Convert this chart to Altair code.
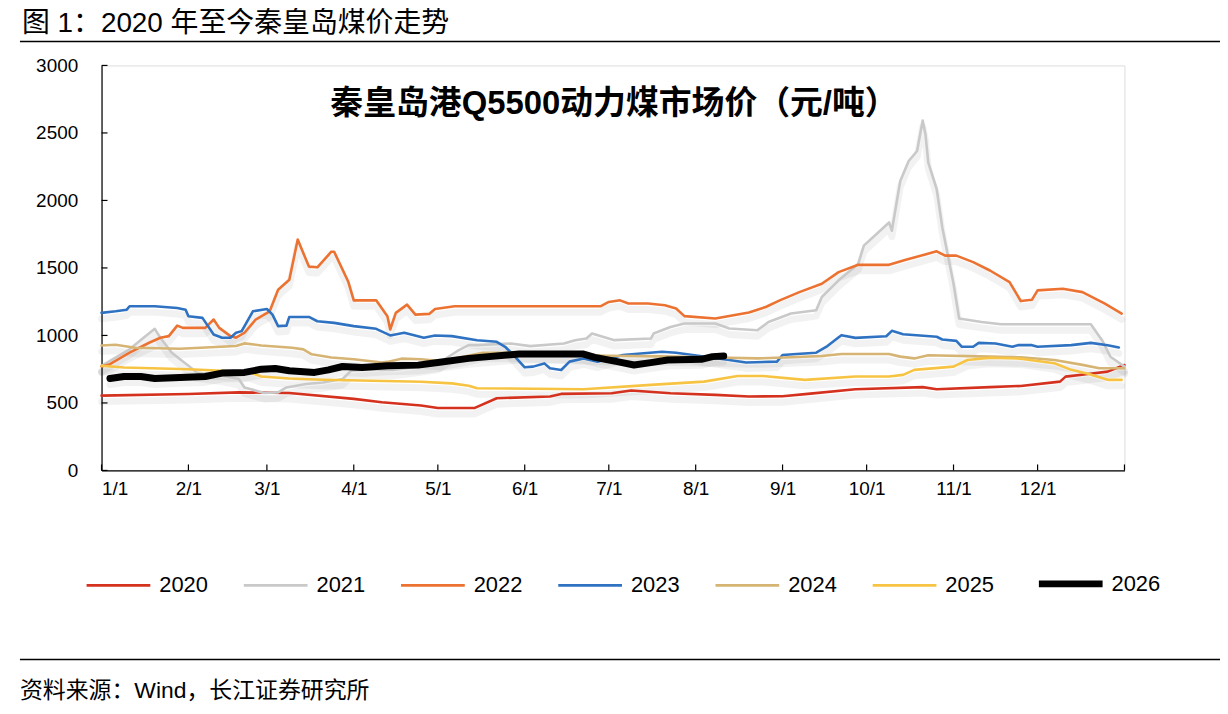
import altair as alt
import pandas as pd

# ---------------- data ----------------
years = ["2020", "2021", "2022", "2023", "2024", "2025", "2026"]
colors = ["#d4321f", "#c9c9c9", "#ec7232", "#2f72c2", "#d6b474", "#f7c343", "#000000"]
thick_year = "2026"

d2020 = [0, 31, 49, 67, 90, 100, 114, 120, 133, 141, 160, 164, 182, 189, 203, 219, 231, 243,
         252, 269, 293, 298, 317, 328, 342, 344, 352, 359, 365]
v2020 = [554, 566, 578, 574, 530, 505, 481, 462, 462, 535, 548, 567, 572, 592, 572, 560, 548, 550,
         567, 602, 617, 602, 617, 626, 658, 695, 714, 732, 781]

d2021 = [0, 10, 15, 19, 21, 25, 28, 31, 34, 43, 49, 51, 58, 63, 66, 73, 79, 86, 89, 95, 104, 110,
         120, 127, 131, 134, 146, 153, 165, 169, 173, 175, 183, 196, 197, 203, 208, 219, 224, 234,
         238, 246, 255, 257, 263, 270, 272, 281, 282, 285, 288, 291, 293, 294, 295, 298, 300, 304,
         306, 314, 321, 353, 357, 360, 365]
v2021 = [775, 897, 983, 1049, 983, 873, 824, 775, 726, 701, 677, 615, 574, 578, 615, 640, 652, 677,
         738, 750, 745, 760, 790, 885, 928, 928, 940, 921, 940, 965, 977, 1014, 965, 977, 1014,
         1063, 1088, 1088, 1051, 1038, 1100, 1162, 1187, 1285, 1408, 1530, 1665, 1837, 1776, 2144,
         2292, 2366, 2592, 2488, 2280, 2083, 1800, 1383, 1125, 1100, 1083, 1083, 965, 842, 769]

d2022 = [0, 3, 10, 17, 21, 24, 27, 29, 37, 40, 42, 46, 48, 51, 55, 60, 63, 67, 70, 74, 77, 82, 83,
         88, 90, 98, 102, 103, 105, 109, 112, 117, 119, 126, 178, 181, 185, 188, 195, 201, 205, 208,
         219, 231, 237, 242, 249, 257, 263, 270, 281, 287, 298, 301, 305, 311, 317, 324, 328, 332,
         334, 343, 350, 358, 364]
v2022 = [770, 787, 873, 946, 983, 995, 1073, 1056, 1056, 1118, 1056, 995, 983, 1020, 1118, 1179,
         1338, 1412, 1710, 1510, 1505, 1620, 1620, 1400, 1260, 1260, 1142, 1044, 1167, 1228, 1154,
         1160, 1196, 1216, 1216, 1248, 1260, 1236, 1236, 1224, 1199, 1143, 1125, 1170, 1211, 1260,
         1321, 1383, 1469, 1523, 1523, 1560, 1623, 1591, 1591, 1543, 1481, 1395, 1255, 1265, 1334,
         1346, 1321, 1235, 1162]

d2023 = [0, 5, 9, 10, 19, 27, 30, 31, 36, 38, 40, 43, 46, 48, 50, 54, 59, 61, 63, 66, 67, 74, 77,
         83, 90, 98, 103, 108, 115, 119, 125, 134, 141, 144, 147, 151, 154, 158, 160, 164, 167, 172,
         177, 186, 200, 205, 224, 230, 241, 243, 248, 255, 259, 262, 264, 269, 280, 282, 286, 298,
         300, 305, 307, 311, 313, 319, 325, 327, 332, 334, 346, 353, 359, 363]
v2023 = [1167, 1179, 1191, 1216, 1216, 1203, 1191, 1142, 1130, 1069, 1007, 983, 983, 1020, 1032,
         1179, 1196, 1154, 1069, 1073, 1137, 1137, 1105, 1093, 1069, 1049, 1000, 1020, 983, 1000,
         995, 965, 953, 916, 855, 764, 769, 793, 757, 744, 806, 830, 806, 855, 879, 872, 818, 800,
         806, 855, 862, 872, 921, 970, 1002, 982, 994, 1034, 1009, 990, 970, 960, 916, 916, 945,
         940, 916, 928, 928, 916, 928, 945, 928, 911]

d2024 = [0, 5, 12, 28, 48, 51, 57, 68, 72, 75, 82, 90, 100, 102, 107, 114, 121, 130, 136, 148, 160,
         180, 200, 219, 234, 246, 257, 264, 281, 285, 290, 295, 317, 328, 340, 350, 356, 365]
v2024 = [926, 931, 909, 902, 922, 941, 926, 909, 897, 860, 836, 824, 799, 804, 828, 824, 811, 845,
         872, 872, 862, 850, 845, 837, 830, 838, 848, 862, 862, 843, 830, 853, 843, 838, 818, 782,
         757, 757]

d2025 = [0, 8, 31, 43, 53, 57, 67, 79, 114, 125, 131, 134, 172, 196, 215, 227, 236, 251, 269, 281,
         286, 290, 304, 309, 317, 328, 340, 346, 352, 359, 364]
v2025 = [775, 762, 750, 738, 726, 696, 681, 672, 657, 645, 628, 609, 602, 634, 658, 699, 700, 671,
         696, 696, 708, 745, 769, 818, 835, 828, 794, 745, 716, 671, 671]

d2026 = [3, 8, 14, 19, 28, 37, 43, 51, 57, 62, 67, 76, 81, 86, 93, 102, 113, 120, 131, 149, 172,
         176, 184, 190, 196, 202, 214, 218, 222]
v2026 = [681, 696, 696, 681, 689, 696, 721, 726, 750, 755, 738, 726, 745, 770, 762, 775, 780, 799,
         830, 862, 862, 838, 806, 781, 799, 818, 823, 843, 848]

month_days = [0, 31, 59, 90, 120, 151, 181, 212, 243, 273, 304, 334]
month_labels = ["1/1", "2/1", "3/1", "4/1", "5/1", "6/1", "7/1", "8/1", "9/1", "10/1", "11/1", "12/1"]
x_tick_days = month_days + [365]
y_ticks = [0, 500, 1000, 1500, 2000, 2500, 3000]

header_text = "图  1：2020 年至今秦皇岛煤价走势"
inner_title = "秦皇岛港Q5500动力煤市场价（元/吨）"
source_text = "资料来源：Wind，长江证券研究所"

# ---------------- build table ----------------
series_days = [d2020, d2021, d2022, d2023, d2024, d2025, d2026]
series_vals = [v2020, v2021, v2022, v2023, v2024, v2025, v2026]
rows = []
for yr, ds, vs in zip(years, series_days, series_vals):
    for d, v in zip(ds, vs):
        rows.append({"year": yr, "day": d, "price": v})
df = pd.DataFrame(rows)

W, H = 1028, 407
FONT = "Liberation Sans, Arial, Noto Sans CJK SC, sans-serif"
CJK = "Liberation Sans, Noto Sans CJK SC, sans-serif"
THIN, THICK = 2.6, 7

x_scale = alt.Scale(domain=[0, 365], nice=False, zero=False)
y_scale = alt.Scale(domain=[0, 3000], nice=False)

days_js = "[" + ",".join(str(d) for d in month_days) + "]"
labels_js = "[" + ",".join("'" + s + "'" for s in month_labels) + "]"
label_expr = f"{labels_js}[indexof({days_js}, datum.value)]"

x_axis = alt.Axis(values=month_days, labelExpr=label_expr, title=None, ticks=False,
                  grid=False, domainColor="black", domainWidth=1.2, labelFontSize=19,
                  labelFont=FONT, labelColor="black", labelPadding=9, labelOverlap=False)
y_axis = alt.Axis(values=y_ticks, format="d", title=None, ticks=False, grid=False,
                  domainColor="black", domainWidth=1.2, labelFontSize=19,
                  labelFont=FONT, labelColor="black", labelPadding=24)

X = alt.X("day:Q", scale=x_scale, axis=x_axis)
Y = alt.Y("price:Q", scale=y_scale, axis=y_axis)

width_expr = f"datum.year == '{thick_year}' ? {THICK} : {THIN}"
legend_width_expr = f"datum.value == '{thick_year}' ? {THICK} : {THIN}"

shadow = alt.Chart(df).mark_line(
    strokeCap="round", strokeJoin="round", color="#000000", opacity=0.05,
    strokeWidth=7, yOffset=6).encode(x=X, y=Y, detail="year:N")

lines = alt.Chart(df).transform_calculate(w=width_expr).mark_line(
    strokeCap="round", strokeJoin="round").encode(
    x=X, y=Y,
    color=alt.Color("year:N", scale=alt.Scale(domain=years, range=colors),
                    legend=alt.Legend(
                        title=None, orient="none", legendX=6, legendY=510,
                        direction="horizontal", symbolType="stroke", symbolSize=4100,
                        symbolStrokeWidth=alt.ExprRef(expr=legend_width_expr),
                        labelFontSize=22, labelFont=FONT, labelColor="black",
                        columnPadding=30, labelOffset=30)),
    strokeWidth=alt.StrokeWidth("w:Q", scale=None, legend=None),
)

ytick = alt.Chart(pd.DataFrame({"price": y_ticks})).mark_rule(
    color="black", strokeWidth=1.2).encode(y=Y, x=alt.value(0), x2=alt.value(6))
xtick = alt.Chart(pd.DataFrame({"day": x_tick_days})).mark_rule(
    color="black", strokeWidth=1.2).encode(x=X, y=alt.value(H), y2=alt.value(H - 6))

header = alt.Chart(pd.DataFrame({"t": [header_text]})).mark_text(
    align="left", baseline="middle", fontSize=28, font=CJK, color="black").encode(
    text="t:N", x=alt.value(-80), y=alt.value(-42))
header_line = alt.Chart(pd.DataFrame({"t": [0]})).mark_rule(color="black", strokeWidth=1.5).encode(
    x=alt.value(-82), x2=alt.value(1124), y=alt.value(-24))

title_in = alt.Chart(pd.DataFrame({"t": [inner_title]})).mark_text(
    align="center", baseline="middle", fontSize=33, fontWeight="bold", font=CJK,
    color="black").encode(text="t:N", x=alt.value(515), y=alt.value(39))

footer_line = alt.Chart(pd.DataFrame({"t": [0]})).mark_rule(color="black", strokeWidth=1.5).encode(
    x=alt.value(-82), x2=alt.value(1124), y=alt.value(597))
source = alt.Chart(pd.DataFrame({"t": [source_text]})).mark_text(
    align="left", baseline="middle", fontSize=23, font=CJK, color="black").encode(
    text="t:N", x=alt.value(-82), y=alt.value(629))

chart = alt.layer(
    shadow, lines, ytick, xtick, header, header_line, title_in, footer_line, source
).properties(
    width=W, height=H,
    autosize=alt.AutoSizeParams(type="none"),
    padding={"left": 94, "top": 56, "right": 96, "bottom": 235},
).configure_view(strokeWidth=0, stroke="transparent").configure(background="white")

chart.save("out.html", embed_options={"renderer": "svg", "actions": False})
